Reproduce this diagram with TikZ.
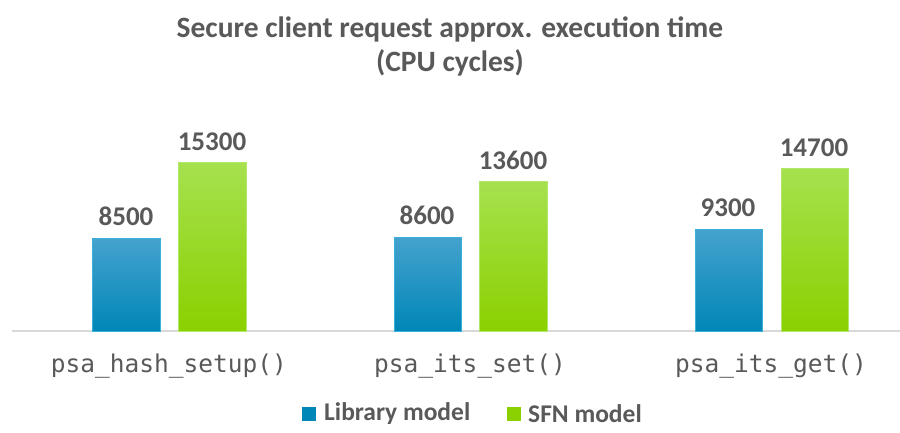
\documentclass[tikz,border=0pt]{standalone}
\usepackage{fontspec}
\setmainfont{Carlito}
\setmonofont{DejaVu Sans Mono}
\definecolor{txt}{HTML}{595959}
\definecolor{blueTop}{HTML}{45A2CE}
\definecolor{blueBot}{HTML}{0087B7}
\definecolor{blueEdge}{HTML}{3AAFD9}
\definecolor{greenTop}{HTML}{A6E14E}
\definecolor{greenBot}{HTML}{8BD000}
\definecolor{greenEdge}{HTML}{B2E86A}
\definecolor{axisgray}{HTML}{D9D9D9}
\begin{document}
\begin{tikzpicture}[x=1pt,y=-1pt,
  barblue/.style={top color=blueTop,bottom color=blueBot,draw=blueEdge,line width=1pt},
  bargreen/.style={top color=greenTop,bottom color=greenBot,draw=greenEdge,line width=1pt},
  vallabel/.style={font=\fontsize{27}{30}\selectfont\bfseries,text=txt,anchor=south,inner sep=0pt},
  catlabel/.style={font=\fontsize{24.5}{28}\selectfont\ttfamily,text=txt,anchor=center,inner sep=0pt},
  legtext/.style={font=\fontsize{25.5}{28}\selectfont\bfseries,text=txt,anchor=west,inner sep=0pt},
  titletext/.style={font=\fontsize{29.5}{34}\selectfont\bfseries,text=txt,align=center,inner sep=0pt}]
\useasboundingbox (0,0) rectangle (900,433);
\node[titletext] (title) at (450,46) {Secure client request approx. execution time\\(CPU cycles)};
% axis
\coordinate (axL) at (12,331);
\coordinate (axR) at (900,331);
\draw[axisgray,line width=2pt] (axL) -- (axR);
% bars
\path[barblue] (92,238) rectangle (160,331);
\path[bargreen] (178,163) rectangle (246,331);
\path[barblue] (394,237) rectangle (461,331);
\path[bargreen] (479,182) rectangle (547,331);
\path[barblue] (695,229) rectangle (762,331);
\path[bargreen] (781,169) rectangle (848,331);
% values
\node[vallabel] (v1) at (126,226) {8500};
\node[vallabel] (v2) at (212,151) {15300};
\node[vallabel] (v3) at (427,225) {8600};
\node[vallabel] (v4) at (513,170) {13600};
\node[vallabel] (v5) at (728,217) {9300};
\node[vallabel] (v6) at (814,157) {14700};
% categories
\node[catlabel] (c1) at (169,366) {psa\_hash\_setup()};
\node[catlabel] (c2) at (470,366) {psa\_its\_set()};
\node[catlabel] (c3) at (771,366) {psa\_its\_get()};
% legend
\path[fill=blueBot] (302,407) rectangle (316,421);
\node[legtext] (l1) at (324,414) {Library model};
\path[fill=greenBot] (507,407) rectangle (521,421);
\node[legtext] (l2) at (528,414) {SFN model};
\end{tikzpicture}
\end{document}
